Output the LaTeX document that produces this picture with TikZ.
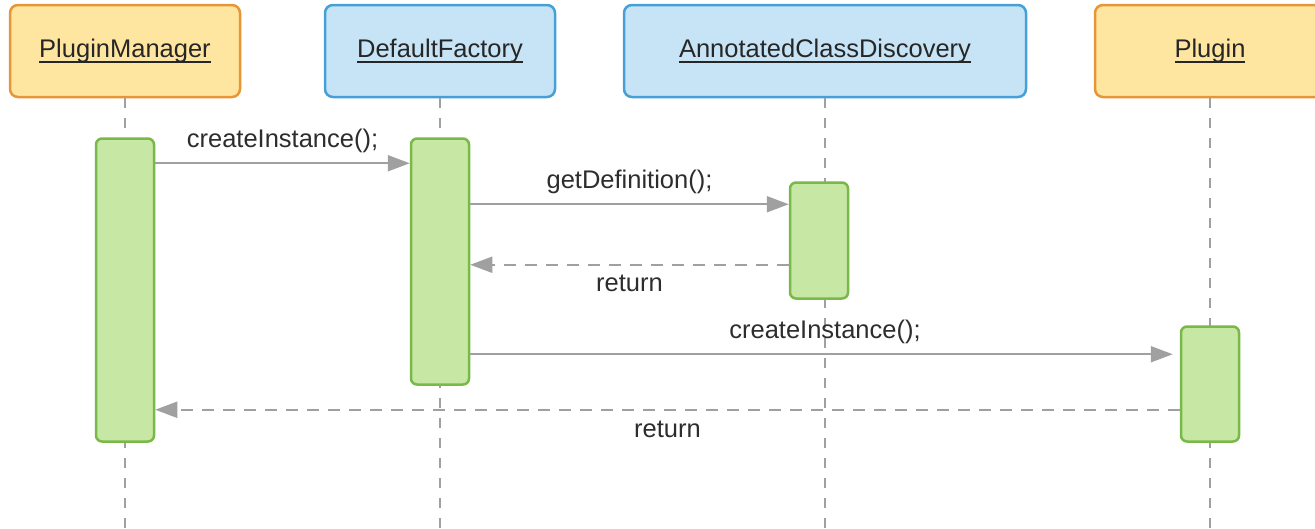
\documentclass[tikz,border=0pt]{standalone}
\usepackage{fontspec}
\setmainfont{Liberation Sans}
\usepackage{tikz}
\usetikzlibrary{arrows.meta,positioning,calc}
\definecolor{myorangefill}{RGB}{255,230,160}
\definecolor{myorange}{RGB}{230,150,55}
\definecolor{mybluefill}{RGB}{198,228,246}
\definecolor{myblue}{RGB}{70,160,215}
\definecolor{mygreenfill}{RGB}{199,231,164}
\definecolor{mygreen}{RGB}{122,184,72}
\definecolor{mygray}{RGB}{160,160,160}
\definecolor{mytext}{RGB}{45,45,45}
% underline a bit heavier than \underline
\newcommand{\objname}[1]{\leavevmode\setbox0\hbox{#1}\rlap{\vrule height -3.5pt depth 5.2pt width \wd0}\box0}

\begin{document}
\begin{tikzpicture}[
  x=1pt,y=-1pt,
  font=\fontsize{25.5}{30}\selectfont,
  text=mytext,
  header/.style={
    draw=#1,
    fill=#1fill,
    line width=2.5pt,
    rounded corners=8pt,
    minimum width=230pt,
    minimum height=92pt,
    text=black!85
    },
  act/.style={
    draw=mygreen,
    fill=mygreenfill,
    line width=2.5pt,
    rounded corners=6pt,
    minimum width=58pt,
    minimum height=#1
    },
  lifeline/.style={draw=mygray, line width=2pt, dash pattern=on 10pt off 10pt},
  msg/.style={draw=mygray, line width=2pt, -{Triangle[length=22pt,width=16pt]}},
  ret/.style={msg, dash pattern=on 12pt off 9pt},
  lbl/.style={inner sep=0pt, anchor=base}
]
\clip (0,0) rectangle (1315,528);

% objects
\node[header=myorange] (pm) at (125,51) {\objname{PluginManager}};
\node[header=myblue] (df) at (440,51) {\objname{DefaultFactory}};
\node[header=myblue, minimum width=402pt] (acd) at (825,51) {\objname{AnnotatedClassDiscovery}};
\node[header=myorange] (pl) at (1210,51) {\objname{Plugin}};

% lifelines
\coordinate (bottom) at (0,530);
\foreach \Obj in {pm, df, acd, pl}
  \draw[lifeline] (\Obj.south) -- (\Obj.south |- bottom);

% activations
\node[act=303pt, below=39pt of pm] (pmact) {};
\node[act=246pt, below=39pt of df] (dfact) {};
\node[act=116pt, below=83pt of acd, xshift=-6pt] (acdact) {};
\node[act=115pt, below=227pt of pl] (plact) {};

% messages
\coordinate (m1) at ($(pmact.north east)+(0,26)$);
\coordinate (m2) at ($(acdact.north west)+(0,23)$);
\coordinate (m3) at ($(acdact.south west)+(0,-35)$);
\coordinate (m4) at ($(plact.north west)+(0,29)$);
\coordinate (m5) at ($(plact.south west)+(0,-33)$);
\draw[msg] (m1) -- node[lbl, yshift=16pt] {createInstance();} (dfact.west |- m1);
\draw[msg] (dfact.east |- m2) -- node[lbl, yshift=16pt] {getDefinition();} (m2);
\draw[ret] (m3) -- node[lbl, yshift=-27pt] {return} (dfact.east |- m3);
\draw[msg, shorten >=7pt] (dfact.east |- m4) -- node[lbl, yshift=16pt] {createInstance();} (m4);
\draw[ret] (m5) -- node[lbl, yshift=-28pt] {return} (pmact.east |- m5);

\end{tikzpicture}
\end{document}
